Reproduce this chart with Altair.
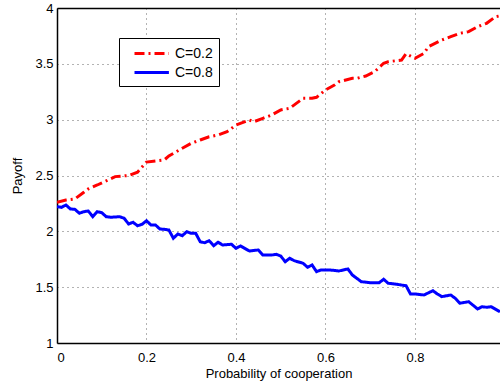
import altair as alt
import pandas as pd

series = ["C=0.2", "C=0.8"]
colors = ["#ff0000", "#0000ff"]
dashes = [[10, 4, 2, 4], [1, 0]]
x_ticks = [0, 0.2, 0.4, 0.6, 0.8]
y_ticks = [1, 1.5, 2, 2.5, 3, 3.5, 4]

prob_a = [0.00, 0.02, 0.04, 0.06, 0.07, 0.09, 0.13, 0.16, 0.18, 0.20,
          0.22, 0.24, 0.25, 0.28, 0.30, 0.32, 0.34, 0.36, 0.38, 0.40,
          0.43, 0.44, 0.46, 0.48, 0.50, 0.52, 0.55, 0.57, 0.58, 0.60,
          0.62, 0.63, 0.66, 0.67, 0.69, 0.71, 0.73, 0.74, 0.77, 0.78,
          0.80, 0.82, 0.83, 0.86, 0.88, 0.90, 0.92, 0.94, 0.96, 0.98, 0.99]
payoff_a = [2.26, 2.28, 2.29, 2.35, 2.38, 2.415, 2.49, 2.50, 2.53, 2.62,
            2.63, 2.64, 2.675, 2.744, 2.788, 2.818, 2.847, 2.863, 2.892, 2.952,
            2.997, 2.982, 3.012, 3.042, 3.087, 3.102, 3.191, 3.191, 3.20, 3.266,
            3.31, 3.34, 3.37, 3.37, 3.391, 3.43, 3.505, 3.519, 3.534, 3.59,
            3.55, 3.594, 3.653, 3.713, 3.743, 3.773, 3.788, 3.833, 3.863, 3.922, 3.93]

prob_b = [0.00, 0.01, 0.02, 0.03, 0.04, 0.05, 0.06, 0.07, 0.08, 0.09,
          0.10, 0.11, 0.12, 0.14, 0.15, 0.16, 0.17, 0.18, 0.19, 0.20,
          0.21, 0.22, 0.23, 0.24, 0.25, 0.26, 0.27, 0.28, 0.29, 0.30,
          0.31, 0.32, 0.33, 0.34, 0.35, 0.36, 0.37, 0.39, 0.40, 0.41,
          0.43, 0.45, 0.46, 0.48, 0.49, 0.50, 0.51, 0.52, 0.53, 0.55,
          0.56, 0.57, 0.58, 0.59, 0.61, 0.63, 0.65, 0.66, 0.68, 0.70,
          0.72, 0.73, 0.74, 0.76, 0.77, 0.78, 0.79, 0.80, 0.82, 0.84,
          0.85, 0.86, 0.88, 0.89, 0.90, 0.92, 0.94, 0.95, 0.96, 0.97, 0.99]
payoff_b = [2.221, 2.215, 2.236, 2.200, 2.197, 2.162, 2.176, 2.182, 2.131, 2.176,
            2.167, 2.131, 2.126, 2.131, 2.117, 2.066, 2.081, 2.050, 2.063, 2.095,
            2.057, 2.057, 2.021, 2.018, 2.012, 1.938, 1.976, 1.961, 1.997, 1.982,
            1.982, 1.907, 1.898, 1.916, 1.871, 1.902, 1.878, 1.884, 1.848, 1.869,
            1.824, 1.833, 1.788, 1.788, 1.794, 1.779, 1.728, 1.759, 1.737, 1.714,
            1.678, 1.699, 1.639, 1.654, 1.654, 1.645, 1.663, 1.609, 1.549, 1.540,
            1.540, 1.571, 1.535, 1.526, 1.519, 1.513, 1.439, 1.439, 1.430, 1.468,
            1.439, 1.415, 1.430, 1.400, 1.356, 1.370, 1.305, 1.325, 1.320, 1.325, 1.280]

df = pd.concat([
    pd.DataFrame({"p": prob_a, "payoff": payoff_a, "series": series[0]}),
    pd.DataFrame({"p": prob_b, "payoff": payoff_b, "series": series[1]}),
])

font = "Liberation Sans"
x_scale = alt.Scale(domain=[0, 0.99], nice=False, zero=False)
y_scale = alt.Scale(domain=[1, 4], nice=False, zero=False)

legend = alt.Legend(
    title=None, orient="none", legendX=62, legendY=30,
    fillColor="white", strokeColor="black", padding=6,
    labelFont=font, labelFontSize=14, labelColor="black",
    symbolType="M0,0H4.3", symbolSize=256, symbolStrokeWidth=3,
    labelOffset=31,
)

grid_dash = [1, 4]
grid_color = "#666"

lines = alt.Chart(df).mark_line(strokeWidth=3, clip=True).encode(
    x=alt.X("p:Q", scale=x_scale,
            axis=alt.Axis(values=x_ticks, title="Probability of cooperation", format="~g",
                          grid=True, gridDash=grid_dash, gridColor=grid_color,
                          tickSize=0, ticks=False, labelPadding=8,
                          domainColor="black", domainWidth=1.5,
                          labelFont=font, labelFontSize=13, labelColor="black",
                          titleFont=font, titleFontSize=13, titleFontWeight="normal",
                          titleColor="black", titlePadding=3)),
    y=alt.Y("payoff:Q", scale=y_scale,
            axis=alt.Axis(values=y_ticks, title="Payoff", format="~g",
                          grid=True, gridDash=grid_dash, gridColor=grid_color,
                          tickSize=0, ticks=False, labelPadding=4,
                          domainColor="black", domainWidth=1.5,
                          labelFont=font, labelFontSize=13, labelColor="black",
                          titleFont=font, titleFontSize=13, titleFontWeight="normal",
                          titleColor="black", titlePadding=10)),
    color=alt.Color("series:N", scale=alt.Scale(domain=series, range=colors), legend=legend),
    strokeDash=alt.StrokeDash("series:N", scale=alt.Scale(domain=series, range=dashes), legend=legend),
)

frame = alt.Chart(df).mark_point(opacity=0).encode(
    x=alt.X("p:Q", scale=x_scale,
            axis=alt.Axis(orient="top", labels=False, ticks=False, grid=False,
                          title=None, domainColor="black", domainWidth=1.5)),
)

chart = alt.layer(lines, frame).resolve_axis(x="independent").properties(
    width=443, height=335,
    autosize=alt.AutoSizeParams(type="none"),
    padding={"left": 57, "top": 8, "right": 0, "bottom": 44},
).configure_view(stroke=None)

chart.save("out.html", embed_options={"renderer": "svg", "actions": False})
